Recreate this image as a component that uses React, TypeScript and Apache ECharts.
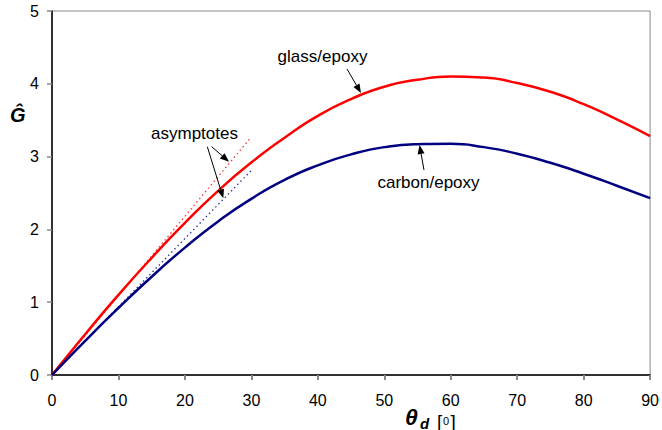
import React, { useEffect, useRef } from "react";
import * as echarts from "echarts";

// Debond angle θd in degrees
const thetaDeg = [0, 5, 10, 15, 20, 25, 30, 35, 40, 45, 50, 55, 60, 65, 70, 75, 80, 85, 90];
// Normalised energy release rate Ĝ
const glassEpoxy = [0, 0.56, 1.1, 1.61, 2.09, 2.53, 2.92, 3.26, 3.56, 3.79, 3.96, 4.055, 4.1, 4.085, 4.01, 3.89, 3.72, 3.51, 3.28];
const carbonEpoxy = [0, 0.47, 0.92, 1.35, 1.75, 2.11, 2.42, 2.68, 2.88, 3.03, 3.13, 3.17, 3.175, 3.13, 3.04, 2.915, 2.765, 2.6, 2.43];
// Small-angle asymptotes
const asymptoteTheta = [0, 30];
const glassAsymptote = [0, 3.27];
const carbonAsymptote = [0, 2.81];

const FONT = "'Liberation Sans', Arial, sans-serif";

function arrow(x1: number, y1: number, x2: number, y2: number) {
  const dx = x2 - x1;
  const dy = y2 - y1;
  const len = Math.sqrt(dx * dx + dy * dy);
  const ux = dx / len;
  const uy = dy / len;
  const hl = 9;
  const hw = 3.5;
  const bx = x2 - ux * hl;
  const by = y2 - uy * hl;
  return [
    {
      type: "line",
      shape: { x1, y1, x2: bx, y2: by },
      style: { stroke: "#000", lineWidth: 1 },
      z: 100,
    },
    {
      type: "polygon",
      shape: {
        points: [
          [x2, y2],
          [bx - uy * hw, by + ux * hw],
          [bx + uy * hw, by - ux * hw],
        ],
      },
      style: { fill: "#000" },
      z: 100,
    },
  ];
}

export default function App() {
  const ref = useRef<HTMLDivElement>(null);

  useEffect(() => {
    if (!ref.current) return;
    const chart = echarts.init(ref.current, null, { renderer: "svg" });

    const toPairs = (xs: number[], ys: number[]) => xs.map((x, i) => [x, ys[i]]);

    const option: any = {
      animation: false,
      backgroundColor: "#fff",
      grid: {
        left: 52,
        right: 11,
        top: 11,
        bottom: 55,
        show: true,
        borderColor: "#888",
        borderWidth: 1,
        backgroundColor: "transparent",
      },
      xAxis: {
        type: "value",
        min: 0,
        max: 90,
        interval: 10,
        axisLine: { show: true, onZero: false, lineStyle: { color: "#000", width: 1.5 } },
        axisTick: { show: true, length: 5, lineStyle: { color: "#888", width: 2 } },
        axisLabel: { color: "#000", fontSize: 16, fontFamily: FONT, margin: 17 },
        splitLine: { show: false },
      },
      yAxis: {
        type: "value",
        min: 0,
        max: 5,
        interval: 1,
        axisLine: { show: true, onZero: false, lineStyle: { color: "#000", width: 1.5 } },
        axisTick: { show: true, length: 5, lineStyle: { color: "#888", width: 1.5 } },
        axisLabel: { color: "#000", fontSize: 16, fontFamily: FONT, margin: 13 },
        splitLine: { show: false },
      },
      series: [
        {
          name: "glass asymptote",
          type: "line",
          data: toPairs(asymptoteTheta, glassAsymptote),
          showSymbol: false,
          lineStyle: { color: "#ff3030", width: 1.3, type: [1.5, 3] },
          z: 1,
        },
        {
          name: "carbon asymptote",
          type: "line",
          data: toPairs(asymptoteTheta, carbonAsymptote),
          showSymbol: false,
          lineStyle: { color: "#3030a0", width: 1.3, type: [1.5, 3] },
          z: 1,
        },
        {
          name: "glass/epoxy",
          type: "line",
          data: toPairs(thetaDeg, glassEpoxy),
          smooth: 0.55,
          showSymbol: false,
          lineStyle: { color: "#ff0000", width: 2.5 },
          z: 3,
        },
        {
          name: "carbon/epoxy",
          type: "line",
          data: toPairs(thetaDeg, carbonEpoxy),
          smooth: 0.55,
          showSymbol: false,
          lineStyle: { color: "#000080", width: 2.5 },
          z: 3,
        },
      ],
      graphic: [
        // y-axis title
        {
          type: "text",
          left: 10,
          top: 105,
          style: { text: "Ĝ", fontSize: 20, fontWeight: "bold", fontStyle: "italic", fontFamily: FONT, fill: "#000" },
        },
        // x-axis title: θd [0]
        {
          type: "text",
          x: 405,
          y: 417,
          style: { text: "θ", fontSize: 23, fontWeight: "bold", fontStyle: "italic", fontFamily: FONT, fill: "#000", verticalAlign: "middle", align: "left" },
        },
        {
          type: "text",
          x: 420,
          y: 423,
          style: { text: "d", fontSize: 15, fontWeight: "bold", fontStyle: "italic", fontFamily: FONT, fill: "#000", verticalAlign: "middle", align: "left" },
        },
        {
          type: "text",
          x: 437,
          y: 421,
          style: { text: "[", fontSize: 19, fontFamily: FONT, fill: "#000", verticalAlign: "middle", align: "left" },
        },
        {
          type: "text",
          x: 443,
          y: 421,
          style: { text: "0", fontSize: 11, fontFamily: FONT, fill: "#000", verticalAlign: "middle", align: "left" },
        },
        {
          type: "text",
          x: 450.5,
          y: 421,
          style: { text: "]", fontSize: 19, fontFamily: FONT, fill: "#000", verticalAlign: "middle", align: "left" },
        },
        // annotations
        {
          type: "text",
          x: 322.5,
          y: 56,
          style: { text: "glass/epoxy", fontSize: 17, fontFamily: FONT, fill: "#000", align: "center", verticalAlign: "middle" },
          z: 100,
        },
        {
          type: "text",
          x: 428.5,
          y: 182,
          style: { text: "carbon/epoxy", fontSize: 17, fontFamily: FONT, fill: "#000", align: "center", verticalAlign: "middle" },
          z: 100,
        },
        {
          type: "text",
          x: 194.5,
          y: 133,
          style: { text: "asymptotes", fontSize: 17, fontFamily: FONT, fill: "#000", align: "center", verticalAlign: "middle" },
          z: 100,
        },
        ...arrow(347, 69, 361, 93),
        ...arrow(424, 170, 419.5, 145),
        ...arrow(211.7, 146.7, 229, 161.7),
        ...arrow(207.3, 146.7, 223.3, 198.3),
      ],
    };

    chart.setOption(option);
    return () => chart.dispose();
  }, []);

  return (
    <div
      ref={ref}
      style={{ position: "fixed", left: 0, top: 0, width: 662, height: 430, background: "#fff" }}
    />
  );
}
